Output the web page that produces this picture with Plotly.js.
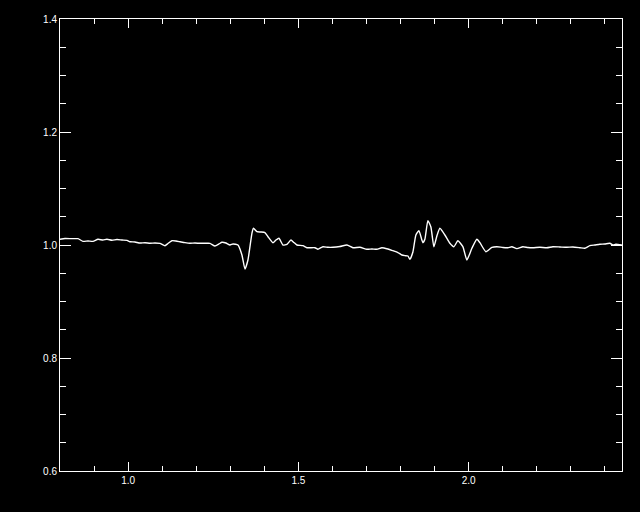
<!DOCTYPE html>
<html>
<head>
<meta charset="utf-8">
<script src="https://cdn.plot.ly/plotly-3.0.1.min.js"></script>
<style>
html,body{margin:0;padding:0;background:#000;}
#chart{width:640px;height:512px;}
</style>
</head>
<body>
<div id="chart"></div>
<script>
const wavelength = [0.8,0.8147,0.8352,0.8528,0.8675,0.8822,0.8969,0.9115,0.9262,0.9380,0.9526,0.9673,0.9820,0.9967,1.0055,1.0201,1.0348,1.0495,1.0642,1.0788,1.0935,1.1082,1.1170,1.1287,1.1405,1.1522,1.1669,1.1816,1.1962,1.2109,1.2256,1.2403,1.2549,1.2667,1.2755,1.2872,1.2990,1.3078,1.3224,1.3342,1.3430,1.3518,1.3635,1.3679,1.3782,1.3900,1.4017,1.4105,1.4252,1.4340,1.4428,1.4545,1.4663,1.4780,1.4868,1.4956,1.5132,1.5250,1.5485,1.5573,1.5719,1.5866,1.6013,1.6218,1.6424,1.6600,1.6805,1.7011,1.7158,1.7304,1.7451,1.7627,1.7774,1.7921,1.8038,1.8126,1.8214,1.8273,1.8361,1.8449,1.8537,1.8625,1.8654,1.8713,1.8801,1.8889,1.8977,1.9065,1.9153,1.9300,1.9447,1.9564,1.9682,1.9828,1.9946,2.0093,2.0240,2.0328,2.0504,2.0680,2.0827,2.1003,2.1149,2.1267,2.1414,2.1590,2.1736,2.1883,2.2089,2.2294,2.2470,2.2676,2.2881,2.3057,2.3263,2.3409,2.3556,2.3703,2.3850,2.3996,2.4143,2.4231,2.4319,2.4495];
const ratio = [1.0101,1.0115,1.0112,1.0112,1.0065,1.0071,1.0065,1.0101,1.0088,1.0101,1.0083,1.0097,1.0088,1.0083,1.0058,1.0053,1.0035,1.0041,1.0030,1.0035,1.0030,0.9988,1.0027,1.0076,1.0071,1.0058,1.0041,1.0030,1.0035,1.0030,1.0030,1.0030,0.9982,1.0018,1.0048,1.0035,1.0000,1.0018,1.0000,0.9823,0.9575,0.9735,1.0207,1.0296,1.0235,1.0230,1.0218,1.0147,1.0041,1.0088,1.0119,1.0000,1.0012,1.0088,1.0044,1.0000,0.9988,0.9952,0.9952,0.9924,0.9970,0.9959,0.9959,0.9973,1.0000,0.9952,0.9959,0.9924,0.9929,0.9924,0.9952,0.9929,0.9899,0.9867,0.9823,0.9811,0.9805,0.9747,0.9876,1.0177,1.0253,1.0088,1.0041,1.0101,1.0430,1.0319,0.9970,1.0159,1.0296,1.0177,1.0030,0.9970,1.0076,0.9970,0.9735,0.9942,1.0101,1.0041,0.9881,0.9959,0.9970,0.9956,0.9952,0.9968,0.9935,0.9970,0.9956,0.9952,0.9959,0.9952,0.9970,0.9965,0.9959,0.9965,0.9952,0.9942,0.9988,1.0000,1.0012,1.0018,1.0030,1.0000,1.0012,1.0000];
const xTickVals = [1.0, 1.5, 2.0];
const xTickText = ['1.0', '1.5', '2.0'];
const yTickVals = [0.6, 0.8, 1.0, 1.2, 1.4];
const yTickText = ['0.6', '0.8', '1.0', '1.2', '1.4'];

const trace = {
  x: wavelength, y: ratio, type: 'scatter', mode: 'lines',
  line: {color: '#ffffff', width: 1.4, shape: 'spline', smoothing: 0.5}, hoverinfo: 'skip'
};
const axisCommon = {
  showline: true, linecolor: '#ffffff', linewidth: 1, mirror: 'ticks',
  showgrid: false, zeroline: false, ticks: 'inside', tickcolor: '#ffffff',
  tickwidth: 1, tickmode: 'array',
  tickfont: {family: 'Liberation Sans, Arial, sans-serif', size: 10, color: '#ffffff'}
};
const layout = {
  width: 640, height: 512,
  paper_bgcolor: '#000000', plot_bgcolor: '#000000',
  margin: {l: 60, r: 18, t: 19, b: 41},
  showlegend: false,
  xaxis: Object.assign({}, axisCommon, {
    range: [0.8, 2.45], tickvals: xTickVals, ticktext: xTickText, ticklen: 9,
    minor: {dtick: 0.1, tick0: 0, ticks: 'inside', ticklen: 5, tickcolor: '#ffffff', tickwidth: 1, showgrid: false}
  }),
  yaxis: Object.assign({}, axisCommon, {
    range: [0.6, 1.4], tickvals: yTickVals, ticktext: yTickText, ticklen: 11,
    minor: {dtick: 0.05, tick0: 0, ticks: 'inside', ticklen: 6, tickcolor: '#ffffff', tickwidth: 1, showgrid: false}
  })
};
Plotly.newPlot('chart', [trace], layout, {staticPlot: true, displayModeBar: false});
</script>
</body>
</html>
